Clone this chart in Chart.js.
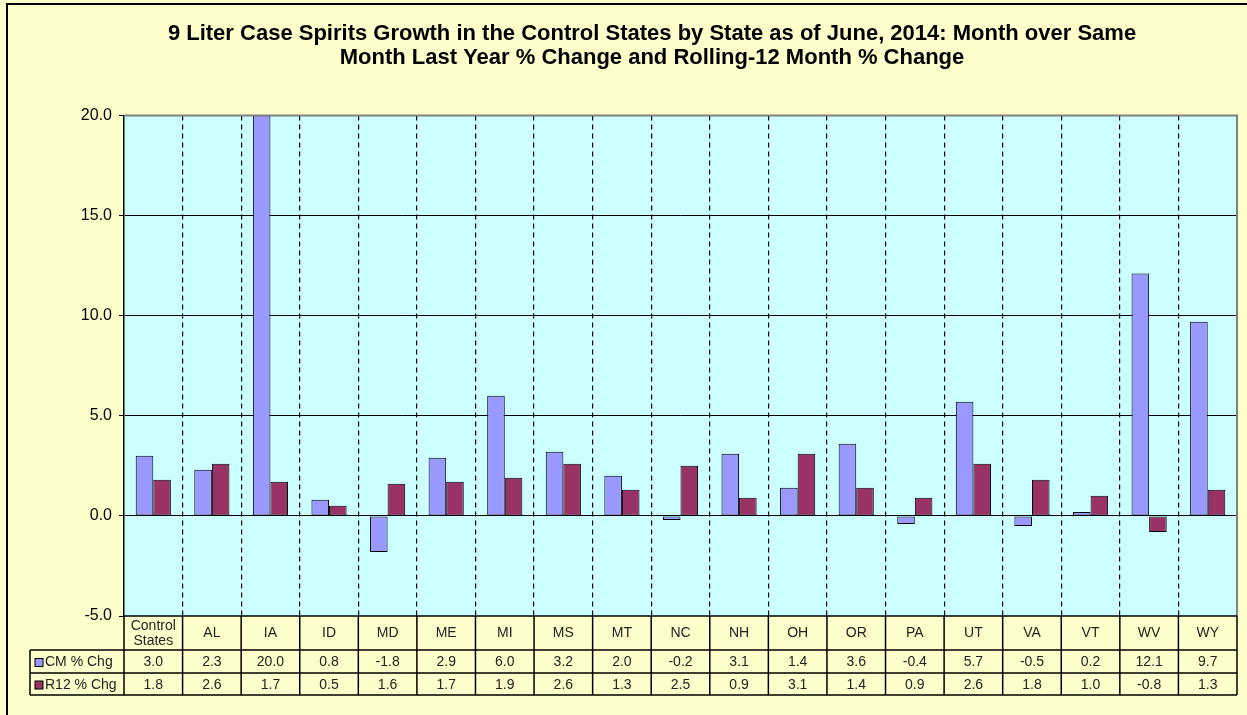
<!DOCTYPE html>
<html>
<head>
<meta charset="utf-8">
<script src="https://cdn.jsdelivr.net/npm/chart.js@4.4.1/dist/chart.umd.min.js"></script>
<style>
    html, body { margin: 0; padding: 0; background: #FFFFCC; }
    #chart { display: block; }
</style>
</head>
<body>
<canvas id="chart" width="1247" height="715"></canvas>
<script>
const categories = [['Control', 'States'], 'AL', 'IA', 'ID', 'MD', 'ME', 'MI', 'MS', 'MT', 'NC', 'NH', 'OH', 'OR', 'PA', 'UT', 'VA', 'VT', 'WV', 'WY'];
const cmChg = [3.0, 2.3, 20.0, 0.8, -1.8, 2.9, 6.0, 3.2, 2.0, -0.2, 3.1, 1.4, 3.6, -0.4, 5.7, -0.5, 0.2, 12.1, 9.7];
const r12Chg = [1.8, 2.6, 1.7, 0.5, 1.6, 1.7, 1.9, 2.6, 1.3, 2.5, 0.9, 3.1, 1.4, 0.9, 2.6, 1.8, 1.0, -0.8, 1.3];
const seriesNames = ['CM % Chg', 'R12 % Chg'];
const yTicks = [-5, 0, 5, 10, 15, 20];

const FONT = "'Liberation Sans', Arial, sans-serif";

// plot background, frame and the data table under the chart
const tablePlugin = {
    id: 'tablePlugin',
    beforeDraw(chart) {
        const { ctx, chartArea: a } = chart;
        ctx.save();
        ctx.fillStyle = '#CCFFFF';
        ctx.fillRect(a.left, a.top, a.right - a.left, a.bottom - a.top);
        ctx.restore();
    },
    afterDraw(chart) {
        const { ctx, chartArea: a } = chart;
        const x = chart.scales.x;
        const n = categories.length;
        const colW = (a.right - a.left) / n;
        const rows = [a.bottom, a.bottom + 34, a.bottom + 57, a.bottom + 79];
        const legendLeft = 30;

        ctx.save();
        // outer frame
        ctx.strokeStyle = '#000';
        ctx.lineWidth = 2;
        ctx.beginPath();
        ctx.moveTo(7, 715);
        ctx.lineTo(7, 4);
        ctx.lineTo(1247, 4);
        ctx.stroke();

        // plot border top/right
        ctx.strokeStyle = '#808080';
        ctx.lineWidth = 2;
        ctx.beginPath();
        ctx.moveTo(a.left, a.top);
        ctx.lineTo(a.right, a.top);
        ctx.lineTo(a.right, a.bottom);
        ctx.stroke();

        // table grid
        ctx.strokeStyle = '#000';
        ctx.lineWidth = 1.5;
        ctx.beginPath();
        ctx.moveTo(a.left, rows[0]);
        ctx.lineTo(a.right, rows[0]);
        for (let r = 1; r < rows.length; r++) {
            ctx.moveTo(legendLeft, rows[r]);
            ctx.lineTo(a.right, rows[r]);
        }
        for (let i = 0; i <= n; i++) {
            const px = a.left + i * colW;
            ctx.moveTo(px, rows[0]);
            ctx.lineTo(px, rows[3]);
        }
        ctx.moveTo(legendLeft, rows[1]);
        ctx.lineTo(legendLeft, rows[3]);
        ctx.stroke();

        // header labels
        ctx.fillStyle = '#222';
        ctx.font = '14px ' + FONT;
        ctx.textAlign = 'center';
        ctx.textBaseline = 'middle';
        categories.forEach((c, i) => {
            const cx = x.getPixelForValue(i);
            if (Array.isArray(c)) {
                ctx.fillText(c[0], cx, rows[0] + 10);
                ctx.fillText(c[1], cx, rows[0] + 25);
            } else {
                ctx.fillText(c, cx, rows[0] + 17);
            }
        });

        // values
        [cmChg, r12Chg].forEach((vals, r) => {
            const cy = (rows[r + 1] + rows[r + 2]) / 2 + 1;
            vals.forEach((v, i) => {
                ctx.fillText(v.toFixed(1), x.getPixelForValue(i), cy);
            });
        });

        // legend column
        ctx.textAlign = 'left';
        chart.data.datasets.forEach((ds, r) => {
            const cy = (rows[r + 1] + rows[r + 2]) / 2 + 1;
            ctx.fillStyle = ds.backgroundColor;
            ctx.fillRect(35, cy - 4, 8, 8);
            ctx.strokeStyle = '#000';
            ctx.lineWidth = 1;
            ctx.strokeRect(35, cy - 4, 8, 8);
            ctx.fillStyle = '#222';
            ctx.fillText(seriesNames[r], 45, cy);
        });
        ctx.restore();
    }
};

new Chart(document.getElementById('chart'), {
    type: 'bar',
    data: {
        labels: categories,
        datasets: [{
            label: seriesNames[0],
            data: cmChg,
            backgroundColor: '#9999FF',
            borderColor: '#000',
            borderWidth: 1,
            borderSkipped: false,
        }, {
            label: seriesNames[1],
            data: r12Chg,
            backgroundColor: '#993366',
            borderColor: '#000',
            borderWidth: 1,
            borderSkipped: false,
        }]
    },
    options: {
        responsive: false,
        animation: false,
        layout: {
            padding: { left: 67, right: 10, top: 0, bottom: 99 }
        },
        datasets: {
            bar: { categoryPercentage: 0.6, barPercentage: 1 }
        },
        plugins: {
            legend: { display: false },
            tooltip: { enabled: false },
            title: {
                display: true,
                text: [
                    '9 Liter Case Spirits Growth in the Control States by State as of June, 2014: Month over Same',
                    'Month Last Year % Change and Rolling-12 Month % Change'
                ],
                color: '#000',
                font: { family: FONT, size: 22, weight: 'bold', lineHeight: 1.1 },
                padding: { top: 22, bottom: 45 }
            }
        },
        scales: {
            x: {
                ticks: { display: false },
                grid: {
                    offset: true,
                    drawTicks: false,
                    tickLength: 0,
                    color: (c) => (c.index === 0 || c.index === categories.length) ? 'rgba(0,0,0,0)' : '#000',
                    lineWidth: 1.2
                },
                border: { display: false, dash: [5, 4] }
            },
            y: {
                min: yTicks[0],
                max: yTicks[yTicks.length - 1],
                afterBuildTicks: (s) => { s.ticks = yTicks.map(v => ({ value: v })); },
                afterFit: (s) => { s.width = 57; },
                ticks: {
                    color: '#000',
                    padding: 7,
                    font: { family: FONT, size: 16 },
                    callback: (v) => Number(v).toFixed(1)
                },
                grid: {
                    color: (c) => (c.tick && (c.tick.value === 20 || c.tick.value === -5)) ? 'rgba(0,0,0,0)' : '#000',
                    tickColor: '#000',
                    tickLength: 5,
                    lineWidth: 1
                },
                border: { color: '#000', width: 1.5 }
            }
        }
    },
    plugins: [tablePlugin]
});
</script>
</body>
</html>
